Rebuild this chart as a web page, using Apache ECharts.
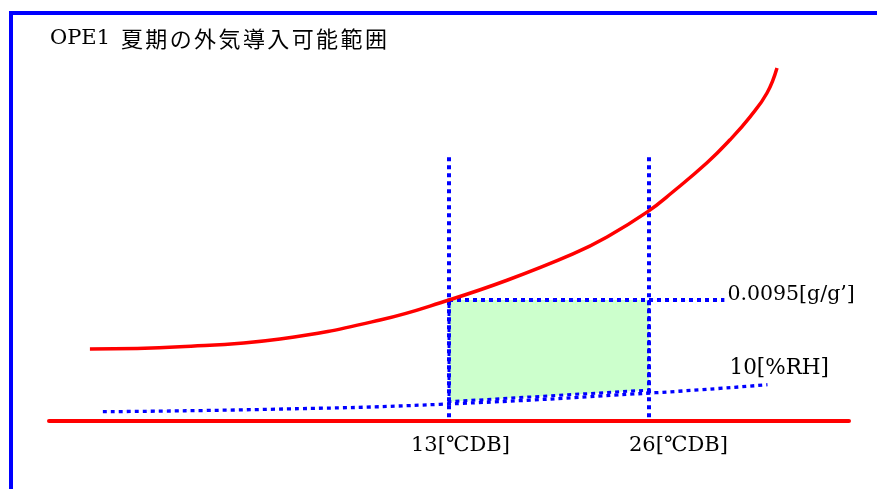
<!DOCTYPE html>
<html>
<head>
<meta charset="utf-8">
<script src="https://cdn.jsdelivr.net/npm/echarts@6/dist/echarts.min.js"></script>
<style>
html,body{margin:0;padding:0;background:#fff;}
#chart{width:877px;height:489px;}
</style>
</head>
<body>
<div id="chart"></div>
<script>
// ---- data (temperature °C, absolute humidity g/g') ----
const titleLatin = 'OPE1 ';
const titleJa = '夏期の外気導入可能範囲';
const satTemps = [-10.34, -4.49, 2.02, 8.52, 13, 16.77, 21.06, 23.27, 25.87, 27.56, 29.77, 31.27, 32.57, 33.67, 34.32];
const satHumidity = [0.00565, 0.00583, 0.00644, 0.00793, 0.0095, 0.01105, 0.01312, 0.01445, 0.0164, 0.0180, 0.02027, 0.02208, 0.02388, 0.02575, 0.02772];
const rhTemps = [-9.5, 1.4, 12.4, 26.4, 33.7];
const rhHumidity = [0.00073, 0.00092, 0.00131, 0.00222, 0.00285];
const rhLabel = '10[%RH]';
const limitTemps = [13, 26];
const limitTempLabels = ['13[℃DB]', '26[℃DB]'];
const limitHumidity = 0.0095;
const limitHumidityLabel = '0.0095[g/g\u2019]';
const limitHumidityEndTemp = 30.9;
const verticalRange = [0.0207, 0.0003];
const boxBottomHumidity = [0.00152, 0.00243];

const SERIF = "'DejaVu Serif', 'Noto Sans CJK JP', serif";
const CJK = "'Noto Sans CJK JP', sans-serif";
const BLUE = '#0000ff';
const RED = '#ff0000';

const chart = echarts.init(document.getElementById('chart'), null, {renderer: 'canvas'});

const boxCorners = [
  [limitTemps[0], limitHumidity],
  [limitTemps[1], limitHumidity],
  [limitTemps[1], boxBottomHumidity[1]],
  [limitTemps[0], boxBottomHumidity[0]]
];

const satPoints = satTemps.map((t, i) => [t, satHumidity[i]]);

const series = [
  {
    type: 'custom',
    z: 1,
    silent: true,
    clip: false,
    data: [[limitTemps[0], limitHumidity]],
    renderItem: function (params, api) {
      return {
        type: 'polygon',
        shape: { points: boxCorners.map(c => api.coord(c)) },
        style: { fill: '#ccffcc', stroke: BLUE, lineWidth: 3, lineDash: [4, 4] }
      };
    }
  },
  {
    type: 'line', z: 2, symbol: 'none', silent: true,
    data: [[limitTemps[0], limitHumidity], [limitHumidityEndTemp, limitHumidity]],
    lineStyle: { color: BLUE, width: 4, type: [4, 4] },
    endLabel: { show: true, formatter: limitHumidityLabel, color: '#000', fontFamily: SERIF, fontSize: 20.5, offset: [-5, -5] }
  },
  {
    type: 'line', z: 2, symbol: 'none', silent: true, smooth: true,
    data: rhTemps.map((t, i) => [t, rhHumidity[i]]),
    lineStyle: { color: BLUE, width: 3.3, type: [4, 4] },
    endLabel: { show: true, formatter: rhLabel, color: '#000', fontFamily: SERIF, fontSize: 21.5, offset: [-46, -16] }
  }
];
limitTemps.forEach(t => {
  series.push({
    type: 'line', z: 2, symbol: 'none', silent: true,
    data: [[t, verticalRange[0]], [t, verticalRange[1]]],
    lineStyle: { color: BLUE, width: 4, type: [4, 4] }
  });
});
// saturation curve: smooth polyline through the data points, positioned by the axes
series.push({
  type: 'custom', z: 3, silent: true, clip: false,
  data: satPoints,
  renderItem: function (params, api) {
    if (params.dataIndex !== 0) return null;
    return {
      type: 'polyline',
      shape: { points: satPoints.map(p => api.coord(p)), smooth: 0.45 },
      style: { fill: null, stroke: RED, lineWidth: 3.5, lineJoin: 'round' }
    };
  }
});

const borderGraphics = [
  { type: 'rect', shape: { x: 9, y: 11, width: 868, height: 4 }, style: { fill: BLUE }, z: 10 },
  { type: 'rect', shape: { x: 9, y: 11, width: 4, height: 478 }, style: { fill: BLUE }, z: 10 }
];

const titleRich = '{a|' + titleLatin + '}' + titleJa.split('').map(c => '{b|' + c + '}').join('');

chart.setOption({
  backgroundColor: '#fff',
  animation: false,
  title: {
    text: titleRich, left: 50, top: 29, padding: 0,
    textStyle: {
      fontFamily: SERIF, fontSize: 20, fontWeight: 'normal', color: '#000', lineHeight: 20,
      rich: {
        a: { fontFamily: SERIF, fontSize: 21, color: '#000', lineHeight: 20, padding: [0, 3, 0, 0] },
        b: { fontFamily: CJK, fontSize: 22, color: '#000', lineHeight: 20, padding: [0, 1.2, 0, 1.2] }
      }
    }
  },
  grid: { left: 49, right: 28, top: 38.9, bottom: 68, outerBoundsMode: 'none', containLabel: false },
  xAxis: {
    type: 'value', min: -13, max: 39,
    axisLine: { show: true, onZero: false, lineStyle: { color: RED, width: 4 } },
    axisTick: { show: false }, axisLabel: { show: false }, splitLine: { show: false }
  },
  yAxis: {
    type: 'value', min: 0, max: 0.03,
    axisLine: { show: false }, axisTick: { show: false }, axisLabel: { show: false }, splitLine: { show: false }
  },
  series: series,
  graphic: borderGraphics
});

// x labels placed from the axis scale
const labelOffsets = [-38, -20];
const labelGraphics = limitTemps.map((t, i) => {
  const p = chart.convertToPixel({ gridIndex: 0 }, [t, 0]);
  return {
    type: 'text', x: p[0] + labelOffsets[i], y: p[1] + 25, z: 10,
    style: { text: limitTempLabels[i], fontFamily: SERIF, fontSize: 21, fill: '#000', verticalAlign: 'middle', align: 'left' }
  };
});
chart.setOption({ graphic: borderGraphics.concat(labelGraphics) }, { replaceMerge: ['graphic'] });
</script>
</body>
</html>
